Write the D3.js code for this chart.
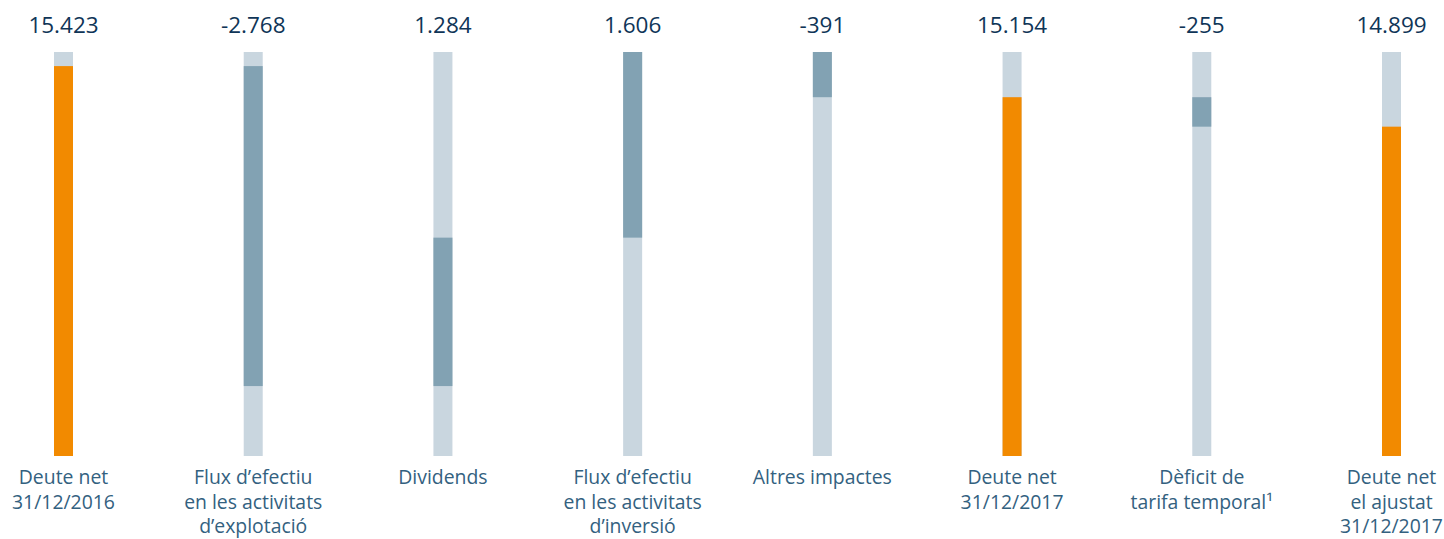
<!DOCTYPE html>
<html>
<head>
<meta charset="utf-8">
<script src="https://cdn.jsdelivr.net/npm/d3@7"></script>
<style>
  html, body { margin: 0; padding: 0; background: #fff; }
  svg { display: block; }
</style>
</head>
<body>
<div id="chart"></div>
<script>
// --- data ---
const categories = [
  ['Deute net', '31/12/2016'],
  ['Flux d’efectiu', 'en les activitats', 'd’explotació'],
  ['Dividends'],
  ['Flux d’efectiu', 'en les activitats', 'd’inversió'],
  ['Altres impactes'],
  ['Deute net', '31/12/2017'],
  ['Dèficit de', 'tarifa temporal¹'],
  ['Deute net', 'el ajustat', '31/12/2017']
]
const values = [15423, -2768, 1284, 1606, -391, 15154, -255, 14899]
const isTotal = [true, false, false, false, false, true, false, true]
const valueLabels = ['15.423', '-2.768', '1.284', '1.606', '-391', '15.154', '-255', '14.899']

const width = 1444
const height = 539

// waterfall steps
let running = 0
const steps = values.map(function(v, i) {
  if (isTotal[i]) {
    running = v
    return {i: i, total: true, y0: null, y1: v}
  }
  const start = running
  running = running + v
  return {i: i, total: false, y0: start, y1: running}
})

const x = d3.scalePoint()
  .domain(d3.range(categories.length))
  .range([63.5, 1391.5])

const y = d3.scaleLinear()
  .domain([12050, 15545])
  .range([456, 52])

const barW = 19

const svg = d3.select('#chart').append('svg')
  .attr('width', width)
  .attr('height', height)
  .attr('viewBox', [0, 0, width, height])

// --- background columns ---
svg.append('g')
  .selectAll('rect')
  .data(steps)
  .join('rect')
    .attr('x', d => x(d.i) - barW / 2)
    .attr('width', barW)
    .attr('y', y.range()[1])
    .attr('height', y.range()[0] - y.range()[1])
    .attr('fill', '#c9d6df')

// --- value bars ---
svg.append('g')
  .selectAll('rect')
  .data(steps)
  .join('rect')
    .attr('x', d => x(d.i) - barW / 2)
    .attr('width', barW)
    .attr('y', d => d.total ? y(d.y1) : y(Math.max(d.y0, d.y1)))
    .attr('height', d => d.total ? y.range()[0] - y(d.y1) : Math.abs(y(d.y0) - y(d.y1)))
    .attr('fill', d => d.total ? '#f28a00' : '#82a2b3')

// --- value labels ---
svg.append('g')
  .selectAll('text')
  .data(steps)
  .join('text')
    .attr('x', d => x(d.i))
    .attr('y', 33)
    .attr('text-anchor', 'middle')
    .attr('font-family', 'Open Sans, sans-serif')
    .attr('font-size', 22.5)
    .attr('fill', '#0f3557')
    .text(d => valueLabels[d.i])

// --- category labels ---
const cat = svg.append('g')
  .selectAll('text')
  .data(categories)
  .join('text')
    .attr('x', (d, i) => x(i))
    .attr('y', 484)
    .attr('text-anchor', 'middle')
    .attr('font-family', 'Open Sans, sans-serif')
    .attr('font-size', 19.4)
    .attr('fill', '#33617f')

cat.selectAll('tspan')
  .data((d, i) => d.map(t => ({t: t, i: i})))
  .join('tspan')
    .attr('x', d => x(d.i))
    .attr('dy', (d, j) => j === 0 ? 0 : 24.6)
    .text(d => d.t)
</script>
</body>
</html>
